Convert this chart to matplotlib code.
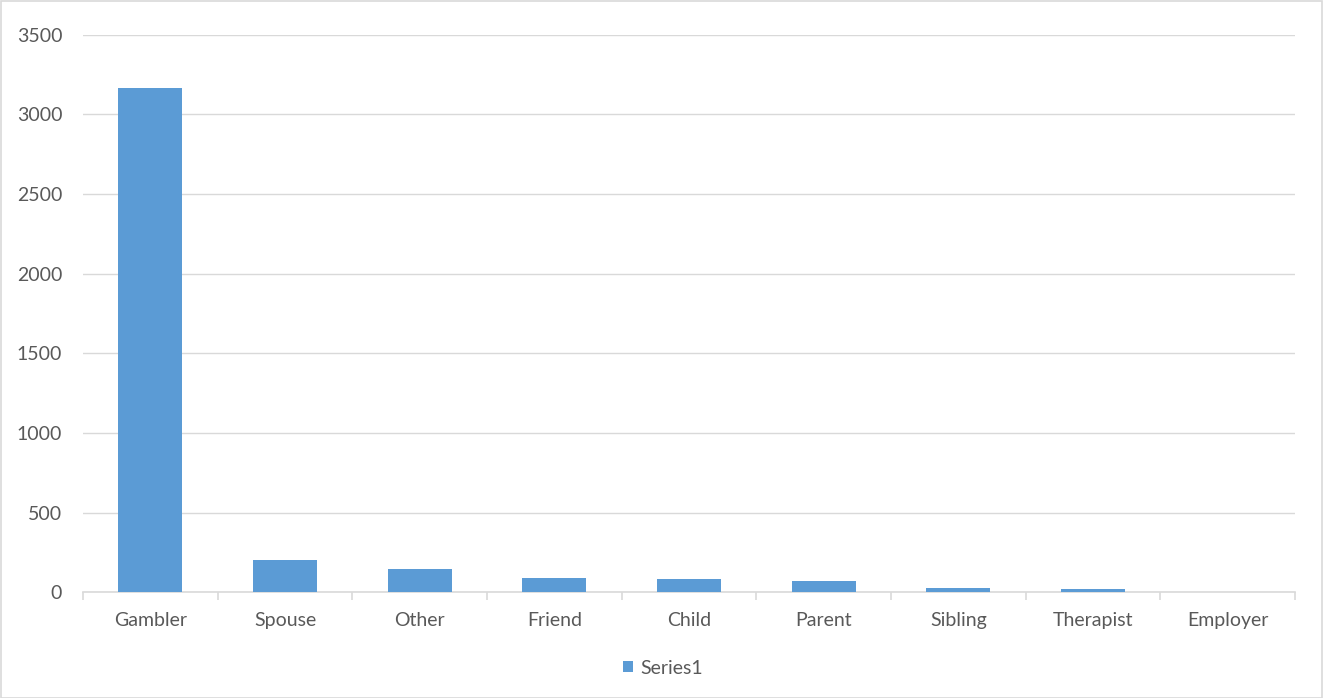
import numpy as np
import matplotlib.pyplot as plt
from matplotlib.patches import Rectangle

categories = ["Gambler", "Spouse", "Other", "Friend", "Child", "Parent",
              "Sibling", "Therapist", "Employer"]
series1 = [3164, 201, 146, 88, 84, 73, 29, 21, 1]
yticks = [0, 500, 1000, 1500, 2000, 2500, 3000, 3500]

plt.rcParams['font.family'] = ['Lato', 'DejaVu Sans']
grey_txt = '#595959'
grid_col = '#D9D9D9'
bar_col = '#5B9BD5'

fig = plt.figure(figsize=(13.23, 6.98), dpi=100)
ax = fig.add_axes([83/1323, 1 - 592.3/698, (1295-83)/1323, (592.3-34.7)/698])

x = np.arange(len(categories))
ax.bar(x, series1, width=0.475, color=bar_col, label='Series1', zorder=3)

ax.set_xlim(-0.5, len(categories) - 0.5)
ax.set_ylim(0, 3500)
ax.set_yticks(yticks)
ax.yaxis.grid(True, color=grid_col, linewidth=1)
ax.set_axisbelow(True)

for s in ['top', 'right', 'left']:
    ax.spines[s].set_visible(False)
ax.spines['bottom'].set_color(grid_col)
ax.spines['bottom'].set_linewidth(1.2)

ax.set_xticks(x)
ax.set_xticklabels(categories)
ax.set_xticks(np.arange(-0.5, len(categories)), minor=True)
ax.tick_params(axis='x', which='major', length=0, pad=14, labelsize=14,
               labelcolor=grey_txt)
ax.tick_params(axis='x', which='minor', length=6, color=grid_col, width=1.2)
ax.tick_params(axis='y', length=0, pad=15, labelsize=14, labelcolor=grey_txt)

leg = fig.legend(loc='center', bbox_to_anchor=(663/1323, 1 - 668/698),
                 frameon=False, fontsize=14, handlelength=0.5,
                 handleheight=0.5, handletextpad=0.4)
for t in leg.get_texts():
    t.set_color(grey_txt)

# chart border
fig.patches.append(Rectangle((0.5/1323, 0.5/698), 1 - 1.5/1323, 1 - 1.5/698,
                             transform=fig.transFigure, fill=False,
                             edgecolor=grid_col, linewidth=1.2))

fig.savefig('out.png', dpi=100)
